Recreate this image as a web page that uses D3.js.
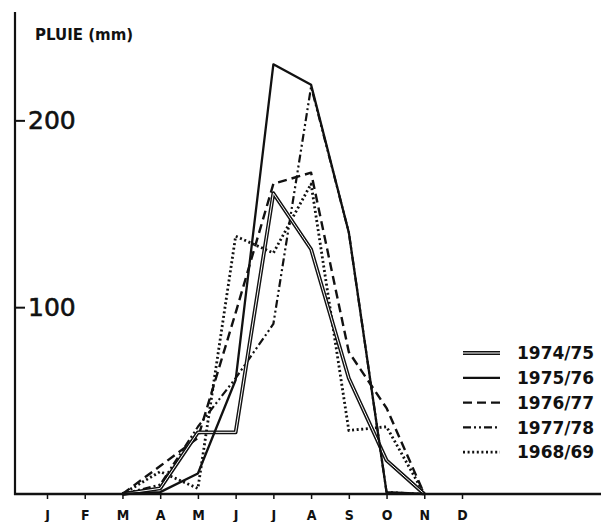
<!DOCTYPE html>
<html>
<head>
<meta charset="utf-8">
<script src="https://cdn.jsdelivr.net/npm/d3@7"></script>
<style>
  html, body { margin: 0; padding: 0; background: #fff; }
  svg { display: block; }
</style>
</head>
<body>
<script>
// Monthly rainfall (mm), one array per season, March through November
const months = ["J", "F", "M", "A", "M", "J", "J", "A", "S", "O", "N", "D"];
const seasonMonths = [2, 3, 4, 5, 6, 7, 8, 9, 10]; // indices into months
const rain7475 = [0, 3, 33, 33, 161, 131, 62, 18, 0];
const rain7576 = [0, 1, 11, 61, 230, 219, 140, 1, 0];
const rain7677 = [0, 15, 30, 97, 166, 172, 76, 46, 0];
const rain7778 = [0, 5, 36, 62, 91, 218, 140, 1, 0];
const rain6869 = [0, 12, 3, 138, 129, 166, 34, 36, 0];
const seasonLabels = ["1974/75", "1975/76", "1976/77", "1977/78", "1968/69"];
const yTicks = [100, 200];
const yTitle = "PLUIE (mm)";

const W = 601, H = 522;
const axisX = 15, baseY = 494, topY = 12;

const svg = d3.select("body").append("svg")
  .attr("width", W).attr("height", H)
  .style("background", "#fff");

const x = d3.scalePoint().domain(d3.range(months.length)).range([47, 462]);
const y = d3.scaleLinear().domain([0, 258]).range([baseY, topY]);

// line styles per season
const styles = {
  "1974/75": { double: true },
  "1975/76": { width: 2.3 },
  "1976/77": { width: 2.4, dash: "9,5" },
  "1977/78": { width: 2.2, dash: "8,3,2,3,2,3" },
  "1968/69": { width: 2.8, dash: "2,2.6" }
};
const seriesData = {
  "1974/75": rain7475, "1975/76": rain7576, "1976/77": rain7677,
  "1977/78": rain7778, "1968/69": rain6869
};

const line = d3.line()
  .x((d, i) => x(seasonMonths[i]))
  .y(d => y(d));

function drawStroke(g, path, st) {
  if (st.double) {
    g.append("path").attr("d", path).attr("fill", "none")
      .attr("stroke", "#111").attr("stroke-width", 3.8).attr("stroke-linejoin", "round");
    g.append("path").attr("d", path).attr("fill", "none")
      .attr("stroke", "#fff").attr("stroke-width", 1).attr("stroke-linejoin", "round");
  } else {
    g.append("path").attr("d", path).attr("fill", "none")
      .attr("stroke", "#111").attr("stroke-width", st.width)
      .attr("stroke-dasharray", st.dash || null)
      .attr("stroke-linejoin", "round");
  }
}

// series, drawn so the solid lines sit on top
const drawOrder = ["1977/78", "1968/69", "1976/77", "1974/75", "1975/76"];
const plot = svg.append("g");
drawOrder.forEach(k => drawStroke(plot, line(seriesData[k]), styles[k]));

// y axis
const yAxis = d3.axisRight(y).tickValues(yTicks).tickSize(10).tickSizeOuter(0).tickPadding(3);
const gy = svg.append("g").attr("transform", `translate(${axisX},0)`).call(yAxis);
gy.select(".domain").remove();
gy.selectAll(".tick line").attr("stroke", "#111").attr("stroke-width", 2);
gy.selectAll(".tick text")
  .attr("fill", "#111")
  .attr("stroke", "#111").attr("stroke-width", 0.6)
  .style("font-family", "'DejaVu Sans', sans-serif")
  .style("font-size", "25px");
svg.append("line")
  .attr("x1", axisX).attr("x2", axisX).attr("y1", topY).attr("y2", baseY + 1)
  .attr("stroke", "#111").attr("stroke-width", 2.2);

svg.append("text")
  .attr("x", 35).attr("y", 40)
  .attr("fill", "#111")
  .style("font-family", "'DejaVu Sans', sans-serif")
  .style("font-weight", "bold")
  .style("font-size", "15px")
  .text(yTitle);

// x axis
const xAxis = d3.axisBottom(x).tickFormat(i => months[i]).tickSize(5).tickPadding(11);
const gx = svg.append("g").attr("transform", `translate(0,${baseY})`).call(xAxis);
gx.select(".domain").remove();
gx.selectAll(".tick line").attr("stroke", "#111").attr("stroke-width", 1.5);
gx.selectAll(".tick text")
  .attr("fill", "#111")
  .style("font-family", "'DejaVu Sans Condensed', 'DejaVu Sans', sans-serif")
  .style("font-weight", "bold")
  .style("font-size", "14px");
svg.append("line")
  .attr("x1", axisX - 1).attr("x2", W).attr("y1", baseY).attr("y2", baseY)
  .attr("stroke", "#111").attr("stroke-width", 2.6);

// legend
const legend = svg.append("g");
seasonLabels.forEach((lab, i) => {
  const ly = 353 + i * 24.8;
  const g = legend.append("g");
  drawStroke(g, `M463,${ly}L500,${ly}`, styles[lab]);
  g.append("text")
    .attr("x", 517).attr("y", ly).attr("dy", "0.36em")
    .attr("fill", "#111")
    .style("font-family", "'DejaVu Sans', sans-serif")
    .style("font-weight", "bold")
    .style("font-size", "17px")
    .text(lab);
});
</script>
</body>
</html>
